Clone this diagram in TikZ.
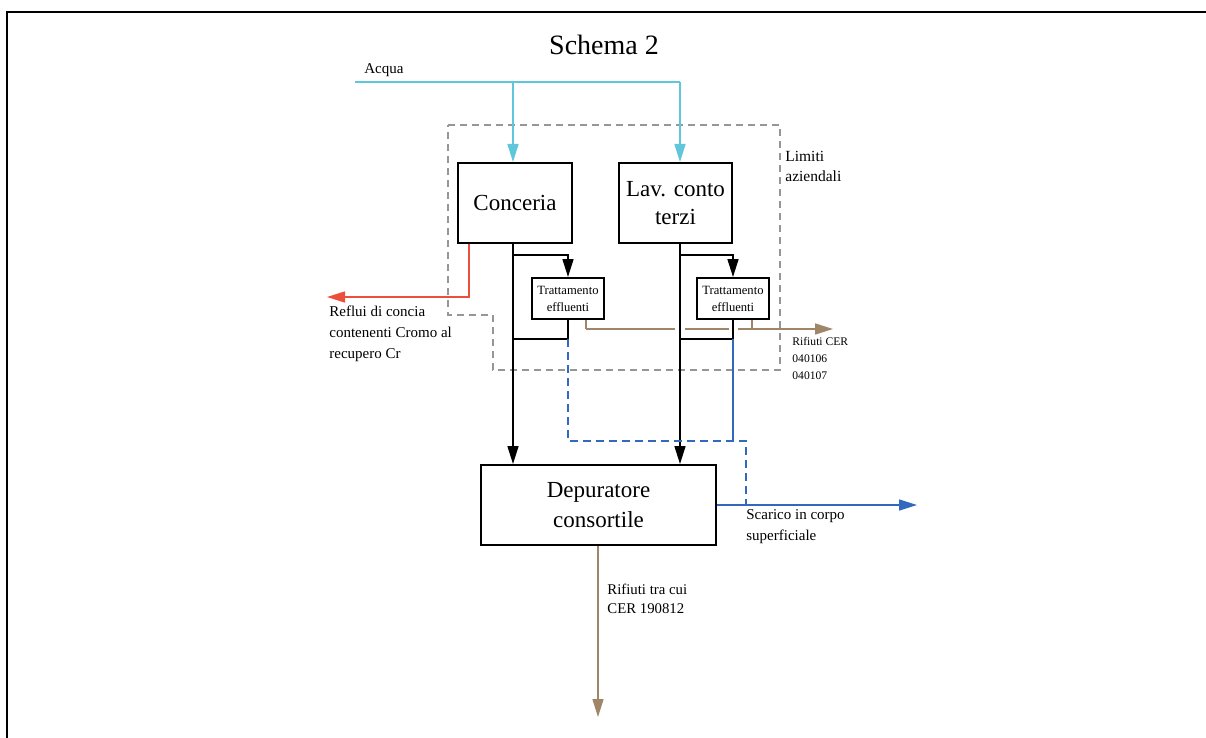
\documentclass[tikz,border=0pt]{standalone}
\usepackage{fontspec}
\setmainfont{Liberation Serif}
\usetikzlibrary{arrows.meta}

\definecolor{acquacol}{RGB}{95,198,220}
\definecolor{redcol}{RGB}{236,80,60}
\definecolor{browncol}{RGB}{160,134,104}
\definecolor{bluecol}{RGB}{50,105,190}
\definecolor{limcol}{RGB}{150,150,150}

\begin{document}
\begin{tikzpicture}[x=0.5pt, y=-0.5pt,
    box/.style={draw, line width=1pt, align=center, inner sep=0pt},
    bigbox/.style={box, font=\fontsize{11.5}{14}\selectfont},
    smallbox/.style={box, font=\fontsize{6.3}{8.5}\selectfont,
      minimum width=36pt, minimum height=20.5pt},
    lbl/.style={anchor=north west, align=left, inner sep=0pt,
      font=\fontsize{7.5}{10.5}\selectfont},
    tip/.style={-{Triangle[length=9pt, width=5.5pt]}},
    flow/.style={line width=0.8pt}]

  \useasboundingbox (0,0) rectangle (1206,738);

  % frame
  \draw[line width=1pt] (7,738) -- (7,12) -- (1206,12);

  \node[font=\fontsize{14}{17}\selectfont] (title) at (604,45) {Schema 2};

  % company limits
  \draw[limcol, line width=0.75pt, dash pattern=on 3.5pt off 2.5pt]
    (448,125) -- (780,125) -- (780,370) -- (493,370) -- (493,315)
    -- (448,315) -- cycle;
  \node[lbl, font=\fontsize{7.75}{10}\selectfont] (limiti) at (785,151)
    {Limiti\\aziendali};

  % boxes
  \node[bigbox, minimum width=57pt, minimum height=40pt] (conceria)
    at (515,203) {Conceria};
  \node[bigbox, minimum width=56.5pt, minimum height=40pt] (lav)
    at (675.5,203) {Lav. conto\\terzi};
  \node[smallbox] (tratt1) at (568,298.5) {Trattamento\\effluenti};
  \node[smallbox] (tratt2) at (733,298.5) {Trattamento\\effluenti};
  \node[bigbox, font=\fontsize{11.5}{15}\selectfont,
    minimum width=117.5pt, minimum height=40pt] (dep)
    at (598.5,505) {Depuratore\\consortile};

  % water
  \coordinate (acqua) at (355,82);
  \coordinate (a1) at (513,82);
  \coordinate (a2) at (680,82);
  \node[lbl, anchor=west] (acqualbl) at (364,70) {Acqua};
  \draw[acquacol, flow] (acqua) -- (a2);
  \draw[acquacol, flow, tip] (a1) -- (a1 |- conceria.north);
  \draw[acquacol, flow, tip] (a2) -- (a2 |- lav.north);

  % chromium effluents
  \coordinate (r1) at (469,297);
  \coordinate (reflui) at (327,297);
  \draw[redcol, flow, tip] (conceria.south -| r1) |- (reflui);
  \node[lbl] (refluilbl) at (329,306)
    {Reflui di concia\\contenenti Cromo al\\recupero Cr};

  % waste from treatment
  \coordinate (w1) at (586,329);
  \coordinate (w2) at (752,329);
  \coordinate (wend) at (833,329);
  \draw[browncol, flow] (w1 |- tratt1.south) -- (w1);
  \draw[browncol, flow] (w2 |- tratt2.south) -- (w2);
  \draw[browncol, flow, tip] (w1) -- (wend);
  \draw[white, line width=2pt] ([xshift=-2.5pt]a2 |- w1) -- ([xshift=2.5pt]a2 |- w1);
  \draw[white, line width=2pt] ([xshift=-2pt]tratt2.south |- w1) -- ([xshift=2.5pt]tratt2.south |- w1);
  \node[lbl, font=\fontsize{5.8}{8.5}\selectfont] (cerlbl) at (792,337)
    {Rifiuti CER\\040106\\040107};

  % process water
  \coordinate (b1) at (513,255);
  \coordinate (b2) at (680,255);
  \coordinate (j1) at (513,339);
  \coordinate (j2) at (680,339);
  \draw[flow, tip] (a1 |- conceria.south) -- (a1 |- dep.north);
  \draw[flow, tip] (a2 |- lav.south) -- (a2 |- dep.north);
  \draw[flow, tip] (b1) -| (tratt1.north);
  \draw[flow, tip] (b2) -| (tratt2.north);
  \draw[flow] (tratt1.south) |- (j1);
  \draw[flow] (tratt2.south) |- (j2);

  % discharge
  \coordinate (bl) at (746,441);
  \coordinate (scarico) at (917,505);
  \draw[bluecol, flow, dash pattern=on 4pt off 2.5pt]
    (j1 -| tratt1.south) |- (bl) -- (bl |- dep.east);
  \draw[bluecol, flow] (j2 -| tratt2.south) -- (tratt2.south |- bl);
  \draw[bluecol, flow, tip] (dep.east) -- (scarico);
  \node[lbl] (scaricolbl) at (746,509) {Scarico in corpo\\superficiale};

  % sludge
  \coordinate (fango) at (598,717);
  \draw[browncol, flow, tip] (fango |- dep.south) -- (fango);
  \node[lbl, font=\fontsize{7.4}{9.5}\selectfont] (fangolbl) at (607,584)
    {Rifiuti tra cui\\CER 190812};

\end{tikzpicture}
\end{document}
